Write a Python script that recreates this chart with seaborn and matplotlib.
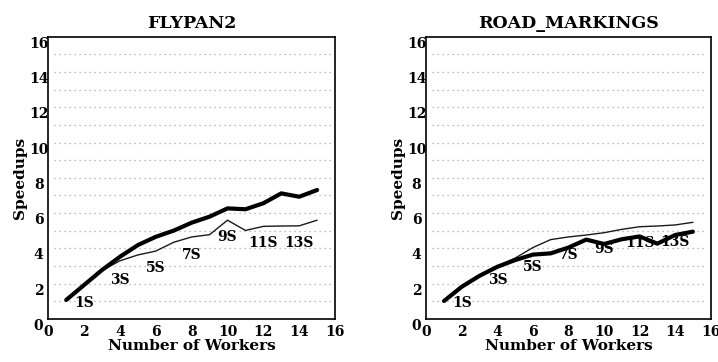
import matplotlib
matplotlib.use("Agg")
import matplotlib.pyplot as plt
import seaborn as sns
import pandas as pd

workers = list(range(1, 16))

fly_thick = [1.08, 1.93, 2.78, 3.53, 4.19, 4.66, 5.01, 5.46, 5.80, 6.27, 6.22, 6.56, 7.12, 6.93, 7.31]
fly_thin = [1.08, 1.93, 2.75, 3.30, 3.63, 3.85, 4.35, 4.65, 4.78, 5.60, 5.02, 5.25, 5.27, 5.28, 5.60]

road_thick = [1.02, 1.83, 2.45, 2.96, 3.34, 3.65, 3.72, 4.05, 4.50, 4.25, 4.52, 4.68, 4.27, 4.76, 4.95]
road_thin = [1.02, 1.83, 2.48, 3.00, 3.45, 4.05, 4.50, 4.65, 4.76, 4.89, 5.08, 5.23, 5.27, 5.33, 5.48]

label_texts = ["1S", "3S", "5S", "7S", "9S", "11S", "13S"]
label_x = [2, 4, 6, 8, 10, 12, 14]
fly_label_y = [0.91, 2.21, 2.89, 3.63, 4.65, 4.31, 4.31]
road_label_y = [0.89, 2.20, 2.96, 3.63, 3.95, 4.29, 4.38]

titles = ["FLYPAN2", "ROAD_MARKINGS"]
ticks = [0, 2, 4, 6, 8, 10, 12, 14, 16]
grid_levels = list(range(1, 16))

sns.set_style("white")
plt.rcParams["font.family"] = ["DejaVu Serif"]
plt.rcParams["font.weight"] = "bold"
plt.rcParams["text.color"] = "black"
plt.rcParams["axes.labelcolor"] = "black"
plt.rcParams["xtick.color"] = "black"
plt.rcParams["ytick.color"] = "black"

fig = plt.figure(figsize=(7.18, 3.62), dpi=100)
ax1 = fig.add_axes([0.0673, 0.1188, 0.3993, 0.7798])
ax2 = fig.add_axes([0.5937, 0.1188, 0.3961, 0.7798])

datasets = [
    (ax1, fly_thick, fly_thin, fly_label_y, titles[0]),
    (ax2, road_thick, road_thin, road_label_y, titles[1]),
]

FS = 10
for ax, thick, thin, ly, title in datasets:
    df = pd.DataFrame({"workers": workers, "thick": thick, "thin": thin})
    for g in grid_levels:
        ax.axhline(g, xmin=0.02, xmax=0.985, color="#a8a8a8", lw=0.9,
                   ls=(0, (1, 3)), zorder=0)
    sns.lineplot(data=df, x="workers", y="thin", ax=ax, color="#1a1a1a", lw=1.0)
    sns.lineplot(data=df, x="workers", y="thick", ax=ax, color="black", lw=3.0,
                 solid_capstyle="round")
    for t, x, y in zip(label_texts, label_x, ly):
        ax.text(x, y, t, ha="center", va="center", fontsize=FS, fontweight="bold")
    ax.set_xlim(0, 16)
    ax.set_ylim(0, 16)
    ax.set_xticks(ticks)
    ax.set_yticks(ticks)
    ax.set_xticklabels([str(t) for t in ticks], fontsize=FS, fontweight="bold")
    ax.set_yticklabels([str(t) for t in ticks], fontsize=FS, fontweight="bold",
                       va="top", ha="center")
    ax.tick_params(axis="both", length=0)
    ax.tick_params(axis="x", pad=4)
    ax.tick_params(axis="y", pad=7)
    for s in ax.spines.values():
        s.set_color("black")
        s.set_linewidth(1.2)
    ax.set_xlabel("Number of Workers", fontsize=11, fontweight="bold", labelpad=0)
    ax.set_ylabel("Speedups", fontsize=11, fontweight="bold", labelpad=1)
    ax.set_title(title, fontsize=12.5, fontweight="bold", pad=6)

fig.savefig("out.png", dpi=100)
